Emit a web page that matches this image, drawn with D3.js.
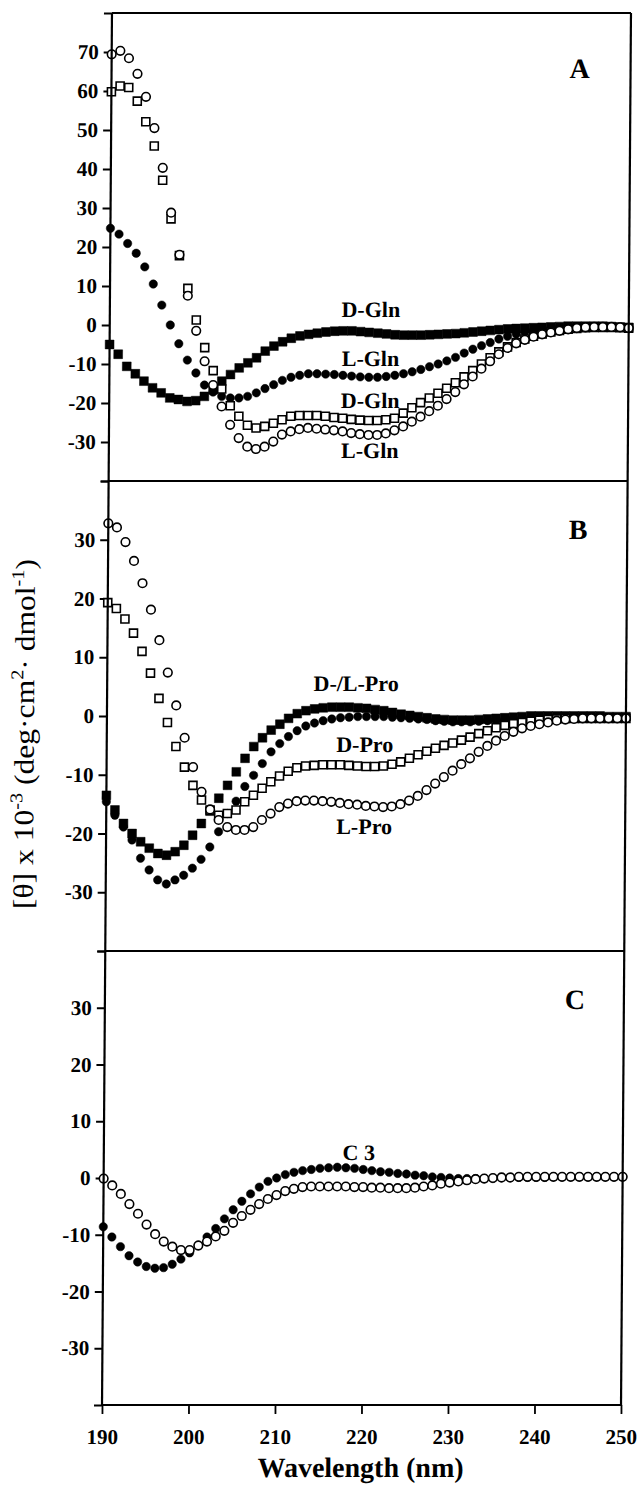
<!DOCTYPE html>
<html>
<head>
<meta charset="utf-8">
<script src="https://cdn.jsdelivr.net/npm/d3@7"></script>
<style>
  html, body { margin: 0; padding: 0; background: #fff; }
  svg { display: block; }
</style>
</head>
<body>
<svg id="chart" width="640" height="1503"></svg>
<script>
// Wavelength grid (nm), one reading per nm
const wavelengths = d3.range(190, 251);

// Panel A: glutamine series, [θ] x 10^-3
const aDGlnFilledSq = [
  -5.0, -7.5, -10.6, -12.5, -14.4, -16.1, -17.4, -18.7, -19.1, -19.6,
  -19.4, -18.3, -16.6, -14.4, -12.7, -11.0, -9.7, -8.4, -6.7, -5.4,
  -4.3, -3.4, -2.8, -2.4, -2.1, -1.8, -1.6, -1.5, -1.5, -1.7,
  -1.9, -2.1, -2.3, -2.5, -2.6, -2.6, -2.6, -2.5, -2.4, -2.3,
  -2.2, -2.0, -1.8, -1.6, -1.4, -1.2, -1.0, -0.9, -0.8, -0.7,
  -0.6, -0.5, -0.4, -0.3, -0.3, -0.3, -0.3, -0.3, -0.4, -0.5, -0.6
];
const aLGlnFilledCirc = [
  24.8, 23.3, 20.9, 18.4, 14.9, 10.5, 5.1, 0.0, -4.8, -9.0,
  -12.3, -15.4, -17.2, -18.3, -18.7, -18.7, -18.3, -17.4, -16.3, -15.3,
  -14.2, -13.4, -12.9, -12.5, -12.5, -12.6, -12.7, -12.9, -13.1, -13.3,
  -13.4, -13.4, -13.2, -12.9, -12.5, -12.0, -11.4, -10.7, -10.0, -9.2,
  -8.3, -7.2, -6.2, -5.3, -4.5, -3.6, -2.9, -2.3, -1.8, -1.4,
  -1.1, -0.9, -0.7, -0.6, -0.5, -0.5, -0.5, -0.5, -0.5, -0.6, -0.7
];
const aDGlnOpenSq = [
  59.8, 61.3, 60.9, 57.4, 52.1, 45.9, 37.1, 27.2, 17.8, 9.4,
  1.3, -5.8, -11.7, -16.4, -20.7, -23.4, -25.7, -26.4, -26.0, -25.2,
  -24.3, -23.4, -23.2, -23.2, -23.2, -23.4, -23.7, -23.9, -24.2, -24.4,
  -24.5, -24.5, -24.3, -23.9, -22.6, -21.2, -19.9, -18.7, -17.5, -16.2,
  -14.8, -13.3, -11.7, -10.0, -8.4, -6.9, -5.6, -4.5, -3.6, -2.9,
  -2.3, -1.8, -1.4, -1.1, -0.9, -0.7, -0.6, -0.6, -0.6, -0.7, -0.8
];
const aLGlnOpenCirc = [
  69.4, 70.3, 68.4, 64.4, 58.5, 50.5, 40.3, 28.8, 18.0, 7.5,
  -1.5, -9.3, -15.4, -20.9, -25.6, -29.0, -31.2, -31.8, -31.2, -29.9,
  -28.1, -27.3, -26.7, -26.4, -26.6, -26.8, -27.0, -27.3, -27.7, -28.0,
  -28.2, -28.2, -27.8, -27.0, -26.0, -24.8, -23.5, -22.1, -20.7, -19.0,
  -17.2, -15.2, -13.2, -11.2, -9.3, -7.5, -5.9, -4.7, -3.8, -3.0,
  -2.4, -1.9, -1.5, -1.1, -0.8, -0.6, -0.5, -0.5, -0.5, -0.6, -0.8
];

// Panel B: proline series
const bDProFilledSq = [
  -13.5, -16.0, -18.3, -20.0, -21.4, -22.5, -23.4, -23.7, -23.1, -22.0,
  -20.3, -18.3, -16.2, -14.0, -11.8, -9.5, -7.2, -5.2, -3.7, -2.4,
  -1.4, -0.4, 0.4, 0.9, 1.2, 1.4, 1.5, 1.5, 1.5, 1.4,
  1.3, 1.1, 0.9, 0.6, 0.3, 0.1, -0.1, -0.3, -0.5, -0.6,
  -0.7, -0.7, -0.7, -0.6, -0.5, -0.4, -0.3, -0.2, -0.1, 0.0,
  0.0, 0.0, 0.0, 0.0, 0.0, 0.0, 0.0, 0.0, -0.1, -0.1, -0.1
];
const bLProFilledCirc = [
  -14.6, -16.9, -18.9, -21.1, -24.2, -26.2, -27.9, -28.6, -27.9, -27.1,
  -25.9, -24.4, -22.3, -19.7, -16.6, -14.5, -12.0, -10.1, -8.1, -6.1,
  -4.7, -3.5, -2.5, -1.7, -1.2, -0.8, -0.5, -0.3, -0.2, -0.1,
  -0.1, -0.1, -0.1, -0.2, -0.3, -0.4, -0.5, -0.6, -0.8, -0.9,
  -1.0, -1.0, -1.0, -0.9, -0.8, -0.7, -0.6, -0.5, -0.4, -0.3,
  -0.3, -0.2, -0.2, -0.2, -0.2, -0.2, -0.2, -0.2, -0.3, -0.3, -0.3
];
const bDProOpenSq = [
  19.3, 18.3, 16.5, 14.1, 11.0, 7.3, 3.0, -1.1, -5.2, -8.7,
  -11.8, -14.3, -16.0, -16.9, -16.6, -16.0, -14.6, -13.5, -12.3, -11.2,
  -10.2, -9.4, -8.8, -8.5, -8.4, -8.3, -8.3, -8.3, -8.4, -8.5,
  -8.6, -8.6, -8.5, -8.2, -7.8, -7.2, -6.6, -6.0, -5.5, -5.0,
  -4.6, -4.1, -3.6, -3.0, -2.5, -2.0, -1.6, -1.3, -1.1, -0.9,
  -0.7, -0.6, -0.5, -0.4, -0.4, -0.4, -0.4, -0.4, -0.4, -0.4, -0.4
];
const bLProOpenCirc = [
  32.8, 32.1, 29.6, 26.4, 22.6, 18.1, 12.9, 7.4, 1.8, -3.7,
  -8.7, -12.9, -15.9, -17.7, -18.9, -19.4, -19.4, -18.9, -17.7, -16.6,
  -15.5, -14.9, -14.5, -14.4, -14.4, -14.5, -14.6, -14.8, -15.0, -15.1,
  -15.3, -15.4, -15.5, -15.4, -15.0, -14.4, -13.6, -12.6, -11.5, -10.4,
  -9.3, -8.2, -7.2, -6.1, -5.1, -4.2, -3.4, -2.7, -2.1, -1.7,
  -1.4, -1.1, -0.8, -0.6, -0.5, -0.4, -0.4, -0.4, -0.4, -0.4, -0.4
];

// Panel C: C3 series
const cFilledCirc = [
  -8.6, -10.4, -12.1, -13.7, -14.8, -15.6, -15.9, -15.8, -15.2, -14.3,
  -13.2, -11.8, -10.4, -8.9, -7.2, -5.6, -4.1, -2.8, -1.6, -0.6,
  0.0, 0.6, 1.0, 1.3, 1.5, 1.7, 1.8, 1.9, 1.8, 1.7,
  1.5, 1.3, 1.1, 1.0, 0.8, 0.7, 0.5, 0.4, 0.2, 0.1,
  0.0, -0.1, -0.1, -0.1, -0.1, -0.1, 0.0, 0.0, 0.1, 0.1,
  0.1, 0.1, 0.2, 0.2, 0.2, 0.2, 0.2, 0.2, 0.2, 0.2, 0.2
];
const cOpenCirc = [
  -0.1, -1.3, -2.8, -4.6, -6.3, -8.2, -9.9, -11.2, -12.1, -12.7,
  -12.7, -11.9, -11.2, -10.3, -9.3, -7.9, -6.7, -5.6, -4.6, -3.7,
  -3.0, -2.3, -1.9, -1.6, -1.5, -1.5, -1.5, -1.5, -1.5, -1.6,
  -1.6, -1.7, -1.7, -1.8, -1.8, -1.8, -1.7, -1.5, -1.3, -1.0,
  -0.8, -0.6, -0.4, -0.2, -0.1, 0.0, 0.1, 0.1, 0.2, 0.2,
  0.2, 0.2, 0.2, 0.2, 0.2, 0.2, 0.2, 0.2, 0.2, 0.2, 0.2
];

// Tick values
const xTickValues = [190, 200, 210, 220, 230, 240, 250];
const yTicksA = [70, 60, 50, 40, 30, 20, 10, 0, -10, -20, -30];
const yTicksBC = [30, 20, 10, 0, -10, -20, -30];

// Text labels
const panelLetters = ["A", "B", "C"];
const labelsA = ["D-Gln", "L-Gln", "D-Gln", "L-Gln"];
const labelsB = ["D-/L-Pro", "D-Pro", "L-Pro"];
const labelsC = ["C 3"];

const FONT = '"Liberation Serif", "Times New Roman", Times, serif';
const svg = d3.select("#chart");

// whole figure is very slightly sheared
const root = svg.append("g").attr("transform", "translate(5.07,0) skewX(-0.41)");

const LEFT = 107, RIGHT = 626;
const x = d3.scaleLinear().domain([190, 250]).range([LEFT, RIGHT]);

const filledSq = { shape: "square", filled: true, size: 8.8 };
const filledCirc = { shape: "circle", filled: true, r: 4.2 };
const openSq = { shape: "square", filled: false, size: 8.0 };
const openCirc = { shape: "circle", filled: false, r: 4.3 };

const panels = [
  {
    top: 13, bottom: 481, domain: [-40, 80], ticks: yTicksA,
    series: [[aDGlnFilledSq, filledSq], [aLGlnFilledCirc, filledCirc], [aDGlnOpenSq, openSq], [aLGlnOpenCirc, openCirc]],
    letter: { text: panelLetters[0], x: 575, y: 78 },
    labels: [
      { text: labelsA[0], x: 368, y: 317 },
      { text: labelsA[1], x: 368, y: 366 },
      { text: labelsA[2], x: 368, y: 408 },
      { text: labelsA[3], x: 368, y: 458 }
    ]
  },
  {
    top: 481, bottom: 951, domain: [-40, 40], ticks: yTicksBC,
    series: [[bDProFilledSq, filledSq], [bLProFilledCirc, filledCirc], [bDProOpenSq, openSq], [bLProOpenCirc, openCirc]],
    letter: { text: panelLetters[1], x: 577, y: 539 },
    labels: [
      { text: labelsB[0], x: 356, y: 691 },
      { text: labelsB[1], x: 365, y: 752 },
      { text: labelsB[2], x: 365, y: 834 }
    ]
  },
  {
    top: 951, bottom: 1405, domain: [-40, 40], ticks: yTicksBC,
    series: [[cFilledCirc, filledCirc], [cOpenCirc, openCirc]],
    letter: { text: panelLetters[2], x: 577, y: 1009 },
    labels: [
      { text: labelsC[0], x: 362, y: 1160 }
    ]
  }
];

function drawSeries(g, y, values, style) {
  const pts = wavelengths.map((w, i) => ({ w, v: values[i] }));
  const fill = style.filled ? "#000" : "#fff";
  if (style.shape === "circle") {
    g.append("g").selectAll("circle").data(pts).join("circle")
      .attr("cx", d => x(d.w)).attr("cy", d => y(d.v))
      .attr("r", style.r)
      .attr("fill", fill).attr("stroke", "#000")
      .attr("stroke-width", style.filled ? 0.5 : 1.6);
  } else {
    const s = style.size;
    g.append("g").selectAll("rect").data(pts).join("rect")
      .attr("x", d => x(d.w) - s / 2).attr("y", d => y(d.v) - s / 2)
      .attr("width", s).attr("height", s)
      .attr("fill", fill).attr("stroke", "#000")
      .attr("stroke-width", style.filled ? 0.5 : 1.6);
  }
}

panels.forEach(p => {
  const y = d3.scaleLinear().domain(p.domain).range([p.bottom, p.top]);
  const g = root.append("g");

  // left ticks and labels
  const axis = d3.axisLeft(y)
    .tickValues(p.ticks.concat(p.domain))
    .tickSize(8).tickSizeOuter(0).tickPadding(5)
    .tickFormat(d => p.ticks.includes(d) ? String(d) : "");
  const ax = g.append("g").attr("transform", `translate(${LEFT},0)`).call(axis);
  ax.select(".domain").remove();
  ax.selectAll(".tick line").attr("stroke", "#000").attr("stroke-width", 1.8);
  ax.selectAll(".tick text")
    .attr("fill", "#000")
    .style("font-family", FONT).style("font-weight", "bold").style("font-size", "21px");

  // data markers
  p.series.forEach(([vals, style]) => drawSeries(g, y, vals, style));

  // panel letter
  g.append("text").attr("x", p.letter.x).attr("y", p.letter.y)
    .attr("text-anchor", "middle")
    .style("font-family", FONT).style("font-weight", "bold").style("font-size", "28px")
    .text(p.letter.text);

  // curve labels
  g.selectAll(null).data(p.labels).join("text")
    .attr("x", d => d.x).attr("y", d => d.y)
    .attr("text-anchor", "middle")
    .style("font-family", FONT).style("font-weight", "bold").style("font-size", "22px")
    .text(d => d.text);
});

// frame: left axis, right border, panel separators
const frame = root.append("g").attr("stroke", "#000").attr("stroke-width", 2.2).attr("fill", "none");
frame.append("line").attr("x1", LEFT).attr("x2", LEFT).attr("y1", 13).attr("y2", 1405);
frame.append("line").attr("x1", RIGHT).attr("x2", RIGHT).attr("y1", 13).attr("y2", 1405);
[13, 481, 951, 1405].forEach(yy => {
  frame.append("line").attr("x1", LEFT).attr("x2", RIGHT).attr("y1", yy).attr("y2", yy);
});

// bottom wavelength axis
const xAxis = d3.axisBottom(x).tickValues(xTickValues)
  .tickSize(9).tickSizeOuter(0).tickPadding(15).tickFormat(d => String(d));
const xa = root.append("g").attr("transform", "translate(0,1405)").call(xAxis);
xa.select(".domain").remove();
xa.selectAll(".tick line").attr("stroke", "#000").attr("stroke-width", 1.8);
xa.selectAll(".tick text")
  .attr("fill", "#000")
  .style("font-family", FONT).style("font-weight", "bold").style("font-size", "21px");

root.append("text")
  .attr("x", 366).attr("y", 1477).attr("text-anchor", "middle")
  .style("font-family", FONT).style("font-weight", "bold").style("font-size", "28px")
  .text("Wavelength (nm)");

// y-axis title with superscripts
const yTitle = root.append("text")
  .attr("transform", "translate(34,734) rotate(-90)")
  .attr("text-anchor", "middle")
  .attr("textLength", 350).attr("lengthAdjust", "spacingAndGlyphs")
  .style("font-family", FONT).style("font-size", "28px");
yTitle.append("tspan").text("[θ] x 10");
yTitle.append("tspan").attr("dy", -11).style("font-size", "18px").text("-3");
yTitle.append("tspan").attr("dy", 11).text(" (deg·cm");
yTitle.append("tspan").attr("dy", -11).style("font-size", "18px").text("2");
yTitle.append("tspan").attr("dy", 11).text("· dmol");
yTitle.append("tspan").attr("dy", -11).style("font-size", "18px").text("-1");
yTitle.append("tspan").attr("dy", 11).text(")");
</script>
</body>
</html>
